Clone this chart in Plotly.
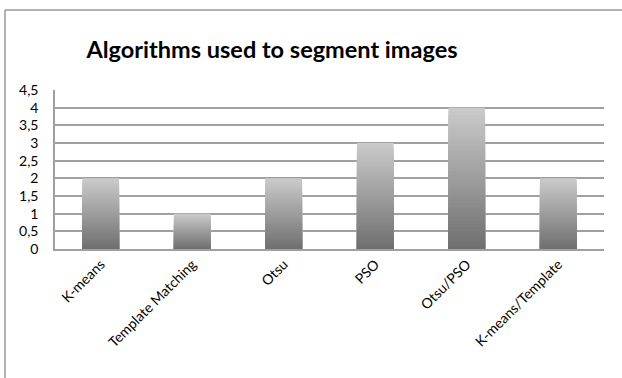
import plotly.graph_objects as go

categories = ["K-means", "Template Matching", "Otsu", "PSO", "Otsu/PSO", "K-means/Template"]
values = [2, 1, 2, 3, 4, 2]
y_tick_vals = [0, 0.5, 1, 1.5, 2, 2.5, 3, 3.5, 4, 4.5]
y_tick_text = ["0", "0,5", "1", "1,5", "2", "2,5", "3", "3,5", "4", "4,5"]
title_text = "Algorithms used to segment images"

W, H = 622, 378
ML, MR, MT, MB = 55, 18, 90, 129
PW, PH = W - ML - MR, H - MT - MB

# gradient from light (top) to dark (bottom) using overlaid bars of decreasing height
N = 40
light = (202, 202, 202)
dark = (112, 112, 112)

fig = go.Figure()
for k in range(N):
    t = k / (N - 1)
    c = tuple(round(light[i] + (dark[i] - light[i]) * t) for i in range(3))
    frac = (N - k) / N
    fig.add_trace(go.Bar(
        x=categories,
        y=[v * frac for v in values],
        marker=dict(color="rgb(%d,%d,%d)" % c, line=dict(width=0)),
        width=0.4,
        showlegend=False,
        hoverinfo="skip" if k > 0 else None,
    ))

def px_x(p):
    return (p - ML) / PW

def px_y(p):
    return (H - MB - p) / PH

fig.update_layout(
    width=W, height=H,
    margin=dict(l=ML, r=MR, t=MT, b=MB),
    paper_bgcolor="white",
    plot_bgcolor="white",
    barmode="overlay",
    font=dict(family="Lato", color="black", size=14),
    title=dict(
        text="<b>" + title_text + "</b>",
        font=dict(family="Lato", size=23.5, color="black"),
        x=272 / W, xanchor="center", xref="container",
        y=1 - 50 / H, yanchor="middle", yref="container",
    ),
    xaxis=dict(
        showgrid=False,
        showline=True, linecolor="#a0a0a0", linewidth=1.5,
        tickangle=-45,
        ticks="",
        tickfont=dict(size=14),
    ),
    yaxis=dict(
        range=[0, 4.5],
        tickvals=y_tick_vals,
        ticktext=y_tick_text,
        showgrid=True, gridcolor="#a0a0a0", gridwidth=1.6,
        showline=True, linecolor="#a0a0a0", linewidth=1.5,
        zeroline=False,
        ticks="",
        ticklabelstandoff=12,
        tickfont=dict(size=14),
    ),
    shapes=[
        dict(type="line", xref="paper", yref="paper",
             x0=px_x(5), x1=px_x(5), y0=px_y(10), y1=px_y(H + 5),
             line=dict(color="#9a9a9a", width=1.5)),
        dict(type="line", xref="paper", yref="paper",
             x0=px_x(5), x1=px_x(W + 5), y0=px_y(10), y1=px_y(10),
             line=dict(color="#9a9a9a", width=1.5)),
    ],
)

fig.write_html("out.html")
